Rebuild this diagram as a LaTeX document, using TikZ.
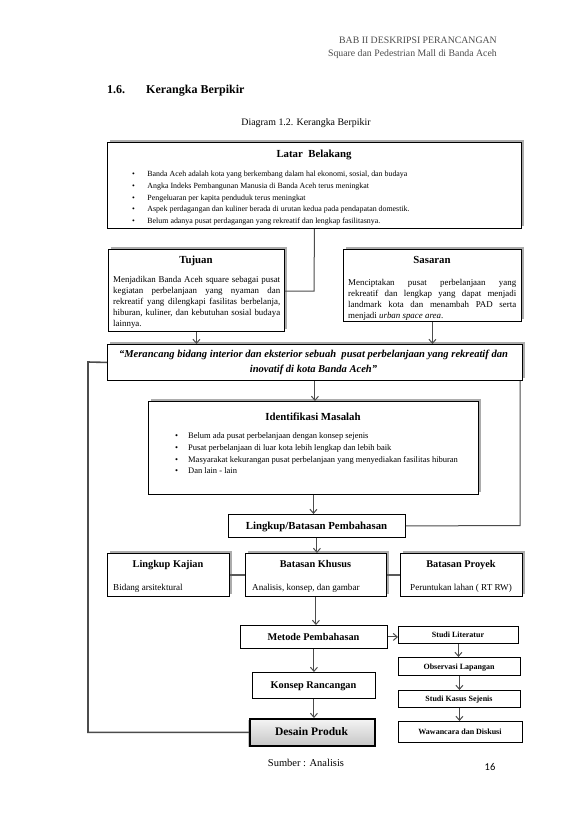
\documentclass[tikz,border=0pt]{standalone}
\usepackage{fontspec}
\setmainfont{Liberation Serif}
\newfontfamily\calib{Carlito}
\usetikzlibrary{arrows.meta,shadows}
\begin{document}
\begin{tikzpicture}[x=1pt,y=-1pt,
  box/.style={draw=black, line width=0.9pt, fill=white, inner sep=0pt, anchor=north west},
  shbox/.style={box, drop shadow={shadow xshift=2.5pt, shadow yshift=2.5pt, fill=gray!65, opacity=1}},
  body/.style={font=\fontsize{7.9}{11.7}\selectfont, inner sep=0pt},
  pbody/.style={font=\fontsize{8.9}{10.9}\selectfont, inner sep=0pt},
  rbody/.style={font=\fontsize{9.1}{10}\selectfont, inner sep=0pt},
  ttl/.style={font=\fontsize{10.8}{12}\selectfont\bfseries, inner sep=0pt, anchor=base},
  stl/.style={font=\fontsize{10.3}{12}\selectfont\bfseries, inner sep=0pt, anchor=base},
  sml/.style={font=\fontsize{8}{9}\selectfont\bfseries, inner sep=0pt, anchor=base},
  line/.style={draw=gray!60!black, line width=1pt},
  arr/.style={line, -{Straight Barb[length=4pt,width=7pt]}},
  thick line/.style={draw=gray!70!black, line width=2.2pt},
  hdr/.style={font=\fontsize{9.8}{11}\selectfont, text=gray!60!black, inner sep=0pt},
  captxt/.style={font=\fontsize{9.9}{11}\selectfont, inner sep=0pt}
]
\useasboundingbox[fill=white] (0,0) rectangle (579,819);

% header
\node[hdr, anchor=base east] (h1) at (497,43.5) {BAB II DESKRIPSI PERANCANGAN};
\node[hdr, anchor=base east] (h2) at (497,56) {Square dan Pedestrian Mall di Banda Aceh};
\node[font=\fontsize{12}{13}\selectfont\bfseries, anchor=base west, inner sep=0pt] (sec) at (107,93.5) {1.6.};
\node[font=\fontsize{12}{13}\selectfont\bfseries, anchor=base west, inner sep=0pt] (sect) at (146,93.5) {Kerangka Berpikir};
\node[captxt, anchor=base] (capt) at (306,125.5) {Diagram 1.2. Kerangka Berpikir};

% Latar Belakang
\node[shbox, minimum width=414pt, minimum height=86pt] (latar) at (107,142) {};
\node[ttl] (latart) at (314,157.3) {Latar\ \ Belakang};
\node[body, anchor=base west] (latarb) at (132,176.6) {\begin{tabular}[t]{@{}l@{\hspace{12.5pt}}l@{}}
\textbullet & Banda Aceh adalah kota yang berkembang dalam hal ekonomi, sosial, dan budaya\\
\textbullet & Angka Indeks Pembangunan Manusia di Banda Aceh terus meningkat\\
\textbullet & Pengeluaran per kapita penduduk terus meningkat\\
\textbullet & Aspek perdagangan dan kuliner berada di urutan kedua pada pendapatan domestik.\\
\textbullet & Belum adanya pusat perdagangan yang rekreatif dan lengkap fasilitasnya.
\end{tabular}};

% Tujuan
\node[shbox, minimum width=176pt, minimum height=82pt] (tujuan) at (108,249) {};
\node[ttl] (tujuant) at (196,263) {Tujuan};
\node[pbody, anchor=base west] (tujuanb) at (113,282.8) {\parbox[t]{167pt}{%
\makebox[167pt][s]{Menjadikan Banda Aceh square sebagai pusat}\\
\makebox[167pt][s]{kegiatan perbelanjaan yang nyaman dan}\\
\makebox[167pt][s]{rekreatif yang dilengkapi fasilitas berbelanja,}\\
\makebox[167pt][s]{hiburan, kuliner, dan kebutuhan sosial budaya}\\
lainnya.}};

% Sasaran
\node[shbox, minimum width=178pt, minimum height=72pt] (sasaran) at (343,249) {};
\node[ttl] (sasarant) at (432,263) {Sasaran};
\node[pbody, font=\fontsize{8.9}{11.2}\selectfont, anchor=base west] (sasaranb) at (348,285) {\parbox[t]{168pt}{%
\makebox[168pt][s]{Menciptakan pusat perbelanjaan yang}\\
\makebox[168pt][s]{rekreatif dan lengkap yang dapat menjadi}\\
\makebox[168pt][s]{landmark kota dan menambah PAD serta}\\
menjadi \textit{urban space area}.}};

% Quote
\node[shbox, minimum width=415pt, minimum height=36pt] (quote) at (107,344) {};
\node[font=\fontsize{10.55}{15}\selectfont\bfseries\itshape, align=center, inner sep=0pt] (quotet) at (313.5,362.5)
{“Merancang bidang interior dan eksterior sebuah\ \ pusat perbelanjaan yang rekreatif dan\\ inovatif di kota Banda Aceh”};

% Identifikasi
\node[shbox, minimum width=330pt, minimum height=93pt] (ident) at (148,401) {};
\node[ttl] (identt) at (313,420.8) {Identifikasi Masalah};
\node[body, font=\fontsize{8.5}{11.7}\selectfont, anchor=base west] (identb) at (175,438.8) {\begin{tabular}[t]{@{}l@{\hspace{10pt}}l@{}}
\textbullet & Belum ada pusat perbelanjaan dengan konsep sejenis\\
\textbullet & Pusat perbelanjaan di luar kota lebih lengkap dan lebih baik\\
\textbullet & Masyarakat kekurangan pusat perbelanjaan yang menyediakan fasilitas hiburan\\
\textbullet & Dan lain - lain
\end{tabular}};

% Lingkup/Batasan
\node[box, minimum width=177pt, minimum height=23pt] (lingkup) at (228,514) {};
\node[ttl] (lingkupt) at (316.5,529.3) {Lingkup/Batasan Pembahasan};

% row
\node[shbox, minimum width=122pt, minimum height=43pt] (kajian) at (107,553) {};
\node[stl] (kajiant) at (168,567.5) {Lingkup Kajian};
\node[rbody, anchor=base west] (kajianb) at (113,590) {Bidang arsitektural};
\node[shbox, minimum width=141pt, minimum height=43pt] (khusus) at (245,553) {};
\node[stl] (khusust) at (315.5,567.5) {Batasan Khusus};
\node[rbody, anchor=base west] (khususb) at (252,590) {Analisis, konsep, dan gambar};
\node[shbox, minimum width=122pt, minimum height=43pt] (proyek) at (400,553) {};
\node[stl] (proyekt) at (461,567.5) {Batasan Proyek};
\node[rbody, anchor=base] (proyekb) at (461,590) {Peruntukan lahan ( RT RW)};

% method
\node[box, minimum width=147pt, minimum height=23pt] (metode) at (240,625) {};
\node[stl] (metodet) at (313.5,640.2) {Metode Pembahasan};
\node[box, minimum width=120pt, minimum height=17pt] (lit) at (398,626) {};
\node[sml] (litt) at (458,637.5) {Studi Literatur};
\node[box, minimum width=122pt, minimum height=18pt] (obs) at (398,657) {};
\node[sml] (obst) at (459,669) {Observasi Lapangan};
\node[box, minimum width=122pt, minimum height=17pt] (kasus) at (398,690) {};
\node[sml] (kasust) at (459,701.5) {Studi Kasus Sejenis};
\node[box, minimum width=124pt, minimum height=21pt] (waw) at (398,721) {};
\node[sml] (wawt) at (460,734.5) {Wawancara dan Diskusi};

\node[box, minimum width=123pt, minimum height=26pt] (konsep) at (252,672) {};
\node[stl] (konsept) at (313.5,688.7) {Konsep Rancangan};
\node[box, line width=1.6pt, minimum width=125pt, minimum height=27pt, top color=gray!8, bottom color=gray!45,
  drop shadow={shadow xshift=-1.5pt, shadow yshift=-1.5pt, fill=gray!45, opacity=1}] (desain) at (249,718) {};
\node[font=\fontsize{11.5}{13}\selectfont\bfseries, inner sep=0pt, anchor=base] (desaint) at (311.5,735.5) {Desain Produk};

\node[captxt, font=\fontsize{10.5}{11}\selectfont, anchor=base] (sumber) at (306,766.5) {Sumber : Analisis};
\node[font=\fontsize{10.5}{11}\selectfont\calib, inner sep=0pt, anchor=base] (page) at (490,770) {16};

% connectors
\coordinate (j1) at (314,291);
\draw[line] (latar.south) -- (j1) -- (j1 -| tujuan.east);
\draw[arr] (tujuan.south) -- (tujuan.south |- quote.north);
\draw[arr] (sasaran.south) -- (sasaran.south |- quote.north);
\draw[arr] (quote.south) -- (quote.south |- ident.north);
\draw[arr] (ident.south) -- (ident.south |- lingkup.north);
\coordinate (r1) at (520,525.5);
\draw[line] (lingkup.east) -- (r1) -- (r1 |- quote.south);
\coordinate (l1) at (88,362);
\draw[line, line width=1.6pt] (desain.west) -- (desain.west -| l1) -- (l1) -- (quote.west);
\draw[arr] (lingkup.south) -- (lingkup.south |- khusus.north);
\draw[thick line] (kajian.east) -- (khusus.west);
\draw[thick line] (khusus.east) -- (proyek.west);
\draw[arr] (khusus.south) -- (khusus.south |- metode.north);
\draw[arr] (metode.east) -- (metode.east -| lit.west);
\draw[arr] (lit.south) -- (lit.south |- obs.north);
\draw[arr] (obs.south) -- (obs.south |- kasus.north);
\draw[arr] (kasus.south) -- (kasus.south |- waw.north);
\draw[arr] (metode.south) -- (metode.south |- konsep.north);
\draw[arr] (konsep.south) -- (konsep.south |- desain.north);
\end{tikzpicture}
\end{document}
